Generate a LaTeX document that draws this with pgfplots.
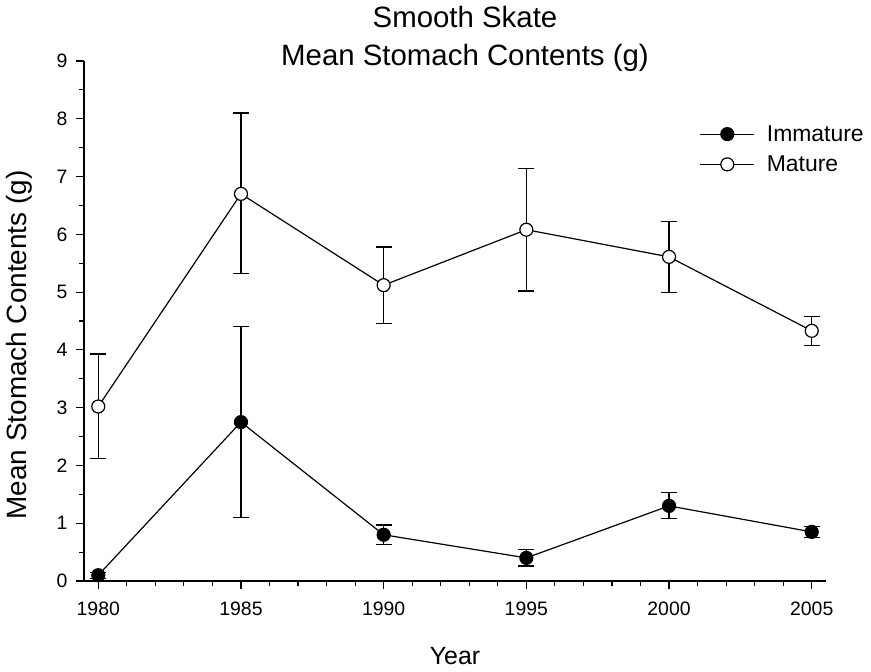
\documentclass[border=0pt]{standalone}
\usepackage{fontspec}
\setmainfont{Liberation Sans}
\usepackage{pgfplots}
\pgfplotsset{compat=1.18}
\begin{document}
\begin{tikzpicture}
\path[use as bounding box] (0,0) rectangle (871bp,672bp);
\begin{axis}[
    at={(84bp,91bp)}, anchor=south west,
    scale only axis, width=742bp, height=520bp,
    xmin=1979.5, xmax=2005.5, ymin=0, ymax=9,
    axis lines=left,
    axis line style={line width=1.3bp, -},
    xtick={1980,1985,...,2005}, ytick={0,1,...,9},
    minor x tick num=4, minor y tick num=1,
    tick align=outside,
    major tick length=8bp, minor tick length=5bp,
    every tick/.style={line width=1.1bp, black},
    /pgf/number format/assume math mode=true,
    x tick label style={/pgf/number format/1000 sep=, yshift=-9bp},
    y tick label style={xshift=-5bp},
    ticklabel style={font=\fontsize{19.5}{22}\selectfont},
    xlabel={Year},
    xlabel style={font=\fontsize{25}{27}\selectfont, at={(axis description cs:0.5,0)}, anchor=base, yshift=-83bp},
    ylabel={Mean Stomach Contents (g)},
    ylabel style={font=\fontsize{28}{30}\selectfont, at={(axis description cs:0,0.454)}, anchor=center, yshift=65bp},
    title={Smooth Skate\\Mean Stomach Contents (g)},
    title style={font=\fontsize{29.5}{38}\selectfont, align=center, at={(axis description cs:0.5,1)}, anchor=south, inner sep=0pt, yshift=-17bp, xshift=10bp},
    legend style={draw=none, fill=none, at={(axis description cs:0.8255,0.884)}, anchor=north west,
        font=\fontsize{23}{25}\selectfont, row sep=9bp, column sep=10bp},
    legend cell align=left,
    legend image code/.code={\draw[mark repeat=2, mark phase=2, #1] plot coordinates {(0bp,0bp) (27bp,0bp) (54bp,0bp)};},
    error bars/error bar style={line width=1.2bp, black},
    error bars/error mark options={rotate=90, mark size=8bp, line width=1.2bp, black},
]
% Immature
\addplot[black, line width=1.2bp, mark=*, mark size=6.5bp, mark options={fill=black, draw=black, solid},
    error bars/.cd, y dir=both, y explicit] coordinates {
    (1980,0.10) += (0,0.05) -= (0,0.05)
    (1985,2.75) += (0,1.65) -= (0,1.65)
    (1990,0.80) += (0,0.17) -= (0,0.17)
    (1995,0.40) += (0,0.14) -= (0,0.14)
    (2000,1.30) += (0,0.23) -= (0,0.22)
    (2005,0.85) += (0,0.10) -= (0,0.10)
};
\addlegendentry{Immature}
% Mature
\addplot[black, line width=1.2bp, mark=*, mark size=6.5bp, mark options={fill=white, draw=black, solid},
    error bars/.cd, y dir=both, y explicit] coordinates {
    (1980,3.02) += (0,0.91) -= (0,0.90)
    (1985,6.70) += (0,1.40) -= (0,1.38)
    (1990,5.12) += (0,0.66) -= (0,0.66)
    (1995,6.08) += (0,1.06) -= (0,1.06)
    (2000,5.61) += (0,0.61) -= (0,0.61)
    (2005,4.33) += (0,0.25) -= (0,0.25)
};
\addlegendentry{Mature}
\end{axis}
\end{tikzpicture}
\end{document}
